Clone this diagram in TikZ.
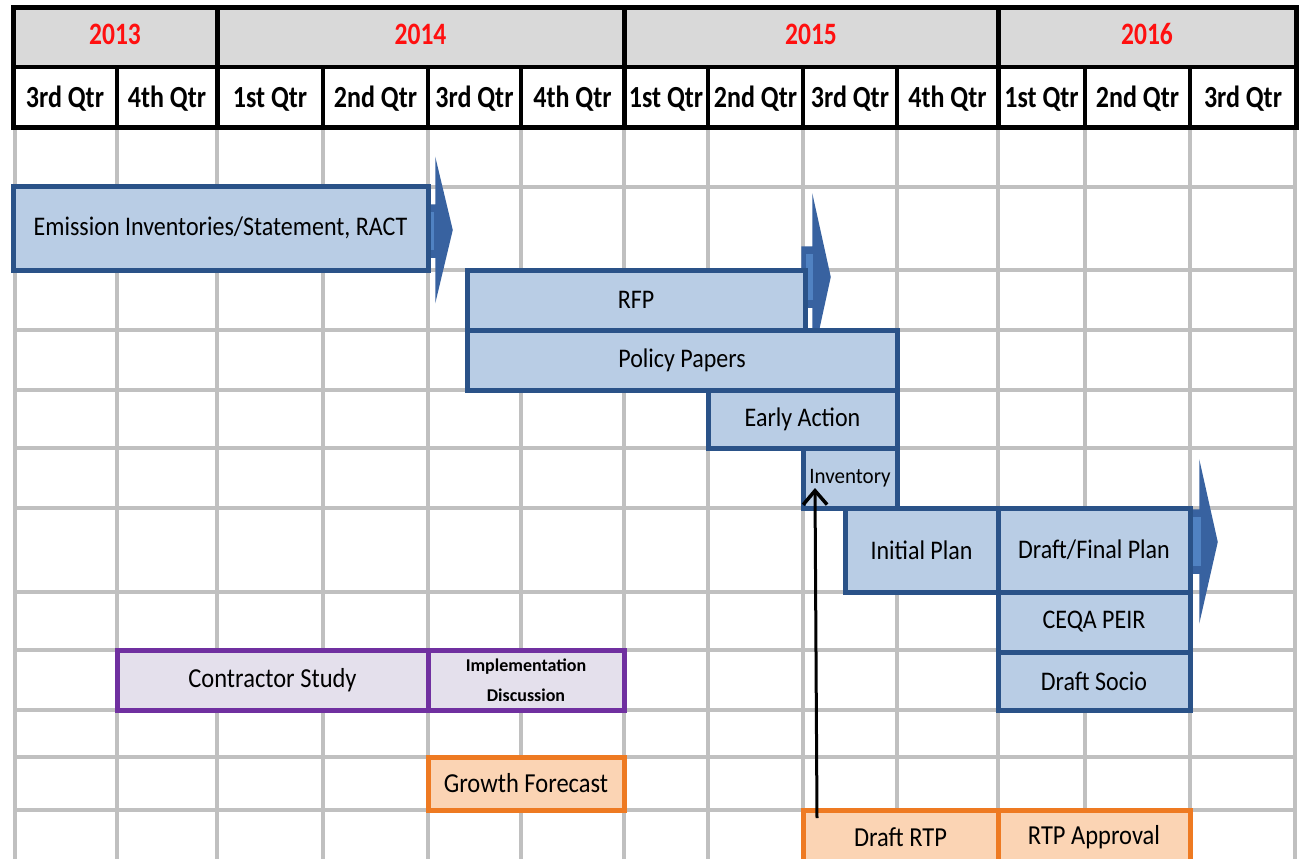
\documentclass[tikz,border=0pt]{standalone}
\usepackage{fontspec}
\usepackage{graphicx}
\setmainfont{Carlito}
\usetikzlibrary{arrows.meta}
\definecolor{gridc}{HTML}{C0C0C0}
\definecolor{hdrgray}{HTML}{D9D9D9}
\definecolor{yearred}{HTML}{FF1010}
\definecolor{bluefill}{HTML}{B9CDE5}
\definecolor{blueline}{HTML}{2A5288}
\definecolor{arrowdark}{HTML}{3862A0}
\definecolor{arrowfill}{HTML}{5082C2}
\definecolor{purpfill}{HTML}{E4E0EC}
\definecolor{purpline}{HTML}{7030A0}
\definecolor{orfill}{HTML}{FBD4B4}
\definecolor{orline}{HTML}{EE7A22}
\newcommand\vs[2][1.12]{\scalebox{1}[#1]{#2}}
\newcommand\gbox[7]{\node[#6, minimum width={#4-#2}, minimum height={#5-#3}] (#1) at ({(#2+#4)/2},{(#3+#5)/2}) {#7};}
\tikzset{
  gridline/.style={draw=gridc, line width=3.5pt},
  hdrline/.style={draw=black, line width=3.5pt},
  hdrouter/.style={draw=black, line width=5pt},
  yeartxt/.style={anchor=base, inner sep=0pt, text=yearred, font=\fontsize{25.5}{28}\selectfont\bfseries},
  qtrtxt/.style={anchor=base, inner sep=0pt, font=\fontsize{26}{28}\selectfont\bfseries},
  bluebox/.style={rectangle, draw=blueline, fill=bluefill, line width=5pt, inner sep=0pt, font=\fontsize{24}{28}\selectfont},
  purpbox/.style={rectangle, draw=purpline, fill=purpfill, line width=5pt, inner sep=0pt, font=\fontsize{24.5}{28}\selectfont},
  orbox/.style={rectangle, draw=orline, fill=orfill, line width=5pt, inner sep=0pt, font=\fontsize{24.5}{28}\selectfont},
  blockarrow/.style={draw=arrowdark, fill=arrowdark, line width=1.5pt, line join=miter},
  shaftin/.style={fill=arrowfill},
  link/.style={draw=black, line width=3pt, -{Straight Barb[length=14pt,width=24pt,line width=3.5pt]}}
}
\begin{document}
\begin{tikzpicture}[x=1pt,y=-1pt]
\useasboundingbox (0,0) rectangle (1299,859);
\fill[white] (0,0) rectangle (1299,859);
% grid
\foreach \x in {15,117,217,323,428,521,624,708,803,897,998,1085,1190,1295}
  \draw[gridline] (\x,127) -- (\x,870);
\foreach \y in {187,270,330,390,448,508,592,650,710,757,810}
  \draw[gridline] (13,\y) -- (1296,\y);
% header
\fill[hdrgray] (13,8) rectangle (1296,67);
\fill[white] (13,67) rectangle (1296,127);
\draw[hdrline] (13,67) -- (1296,67);
\foreach \x in {217,624,998}
  \draw[hdrouter] (\x,8) -- (\x,127);
\foreach \x in {117,323,428,521,708,803,897,1085,1190}
  \draw[hdrline] (\x,67) -- (\x,127);
\draw[hdrouter] (13,8) rectangle (1296,127);
\foreach \a/\b/\t [count=\i] in {13/217/2013,217/624/2014,624/998/2015,998/1296/2016}
  \node[yeartxt] (y\i) at ({(\a+\b)/2},45) {\vs[1.22]{\t}};
\foreach \a/\b/\t [count=\i] in {13/117/3rd Qtr,117/217/4th Qtr,217/323/1st Qtr,323/428/2nd Qtr,428/521/3rd Qtr,521/624/4th Qtr,624/708/1st Qtr,708/803/2nd Qtr,803/897/3rd Qtr,897/998/4th Qtr,998/1085/1st Qtr,1085/1190/2nd Qtr,1190/1296/3rd Qtr}
  \node[qtrtxt] (q\i) at ({(\a+\b)/2},107.5) {\vs[1.18]{\t}};
% block arrows (behind boxes)
\draw[blockarrow] (426,205) -- (436,205) -- (436,163) -- (452,230) -- (436,297) -- (436,257) -- (426,257) -- cycle;
\fill[shaftin] (429,212) rectangle (434,250);
\draw[blockarrow] (802,247) -- (813,247) -- (813,200) -- (830,277) -- (813,355) -- (813,307) -- (802,307) -- cycle;
\fill[shaftin] (806,254) rectangle (813,300);
\draw[blockarrow] (1188,510) -- (1200,510) -- (1200,466) -- (1217,542) -- (1200,617) -- (1200,573) -- (1188,573) -- cycle;
\fill[shaftin] (1193,517) rectangle (1201,566);
% blue boxes
\gbox{emis}{13}{186}{428}{270}{bluebox}{\vs{Emission Inventories/Statement, RACT}}
\gbox{rfp}{467}{270}{805}{330}{bluebox}{\vs{RFP}}
\gbox{policy}{467}{330}{897}{390}{bluebox}{\vs{Policy Papers}}
\gbox{early}{708}{390}{897}{448}{bluebox}{\vs{Early Action}}
\gbox{inv}{803}{448}{897}{508}{bluebox}{\fontsize{21}{24}\selectfont\vs[1.05]{Inventory}}
\gbox{initial}{845}{508}{998}{592}{bluebox}{\vs{Initial Plan}}
\gbox{final}{998}{508}{1190}{592}{bluebox}{\vs{Draft/Final Plan}}
\gbox{ceqa}{998}{592}{1190}{652}{bluebox}{\vs{CEQA PEIR}}
\gbox{socio}{998}{652}{1190}{710}{bluebox}{\vs{Draft Socio}}
% purple boxes
\gbox{contr}{117}{650}{428}{710}{purpbox}{\vs{Contractor Study}}
\gbox{impl}{428}{650}{624}{710}{purpbox,align=center,font=\fontsize{18}{30}\selectfont\bfseries}{Implementation\\Discussion}
% orange boxes
\gbox{growth}{428}{757}{624}{810}{orbox}{\vs{Growth Forecast}}
\gbox{drtp}{803}{810}{998}{864}{orbox}{\vs{Draft RTP}}
\gbox{rtpa}{998}{810}{1190}{864}{orbox}{\vs{RTP Approval}}
% connector
\coordinate (lstart) at (817,818);
\coordinate (lend) at (815,488);
\draw[link] (lstart) -- (lend);
\end{tikzpicture}
\end{document}
